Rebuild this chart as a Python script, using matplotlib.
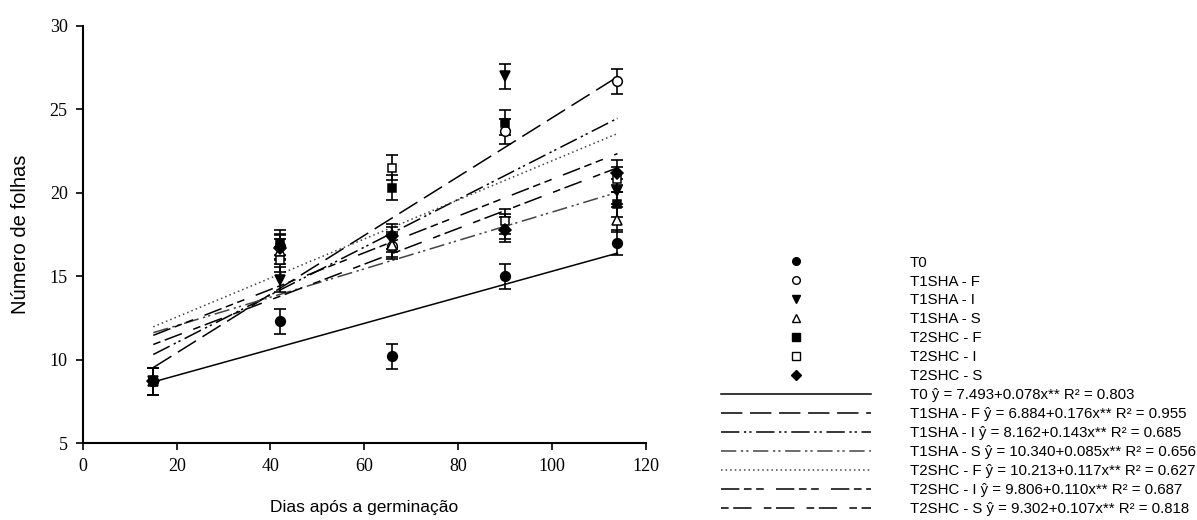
import matplotlib
matplotlib.use('Agg')
import matplotlib.pyplot as plt
from matplotlib.lines import Line2D
import numpy as np

days = [15, 42, 66, 90, 114]

names = ['T0', 'T1SHA - F', 'T1SHA - I', 'T1SHA - S', 'T2SHC - F', 'T2SHC - I', 'T2SHC - S']

t0 = [8.7, 12.3, 10.2, 15.0, 17.0]
t1sha_f = [8.7, 16.8, 16.8, 23.7, 26.7]
t1sha_i = [8.7, 14.8, 17.2, 27.0, 20.1]
t1sha_s = [8.7, 16.5, 16.9, 18.0, 18.4]
t2shc_f = [8.7, 17.0, 20.3, 24.2, 19.3]
t2shc_i = [8.7, 16.0, 21.5, 18.3, 20.8]
t2shc_s = [8.7, 16.7, 17.4, 17.8, 21.2]

err = [0.8, 0.75, 0.75, 0.75, 0.75]

intercepts = [7.493, 6.884, 8.162, 10.340, 10.213, 9.806, 9.302]
slopes = [0.078, 0.176, 0.143, 0.085, 0.117, 0.110, 0.107]
r2 = ['0.803', '0.955', '0.685', '0.656', '0.627', '0.687', '0.818']

series = [t0, t1sha_f, t1sha_i, t1sha_s, t2shc_f, t2shc_i, t2shc_s]
markers = ['o', 'o', 'v', '^', 's', 's', 'D']
fills = ['black', 'white', 'black', 'white', 'black', 'white', 'black']
msizes = [7, 7, 7, 7, 6, 6, 6]
line_styles = ['-', (0, (14, 5)), (0, (12, 3, 1.5, 2, 1.5, 3)), (0, (10, 3, 1.5, 2, 1.5, 3)),
               (0, (1, 2)), (0, (12, 3, 5, 3, 5, 8)), (0, (5, 3, 12, 8))]
line_colors = ['black', 'black', 'black', '#444444', '#444444', 'black', 'black']

fig = plt.figure(figsize=(11.97, 5.2), dpi=100)
ax = fig.add_axes([0.0693, 0.148, 0.470, 0.802])

xfit = np.array([days[0], days[-1]])
for i in range(len(series)):
    ax.errorbar(days, series[i], yerr=err, fmt='none', ecolor='black',
                elinewidth=1.2, capsize=4, capthick=1.2, zorder=3)
    ax.plot(days, series[i], linestyle='none', marker=markers[i], markersize=msizes[i],
            markerfacecolor=fills[i], markeredgecolor='black', markeredgewidth=1.1, zorder=4)
    ax.plot(xfit, intercepts[i] + slopes[i] * xfit, linestyle=line_styles[i],
            color=line_colors[i], linewidth=1.1, zorder=2)

ax.set_xlim(0, 120)
ax.set_ylim(5, 30)
ax.set_xticks(range(0, 121, 20))
ax.set_yticks(range(5, 31, 5))
for s in ['top', 'right']:
    ax.spines[s].set_visible(False)
for s in ['left', 'bottom']:
    ax.spines[s].set_linewidth(1.5)
ax.tick_params(direction='out', length=5, width=1.2, labelsize=13, pad=6)
for lab in ax.get_xticklabels() + ax.get_yticklabels():
    lab.set_family('Liberation Serif')

ax.set_xlabel('Dias após a germinação', family='Liberation Sans', fontsize=12.5, labelpad=18)
ax.set_ylabel('Número de folhas', family='Liberation Sans', fontsize=14.5, labelpad=14)

handles = []
labels = []
for i in range(len(series)):
    handles.append(Line2D([], [], linestyle='none', marker=markers[i], markersize=5.5,
                          markerfacecolor=fills[i], markeredgecolor='black'))
    labels.append(names[i])
for i in range(len(series)):
    handles.append(Line2D([], [], linestyle=line_styles[i], color=line_colors[i], linewidth=1.1))
    labels.append(f'{names[i]} ŷ = {intercepts[i]:.3f}+{slopes[i]:.3f}x** R² = {r2[i]}')

fig.legend(handles, labels, loc='upper left', bbox_to_anchor=(0.597, 0.52),
           frameon=False, handlelength=10.0, handletextpad=2.6, labelspacing=0.33,
           prop={'family': 'Liberation Sans', 'size': 10.8}, borderaxespad=0)

fig.savefig('out.png', dpi=100)
